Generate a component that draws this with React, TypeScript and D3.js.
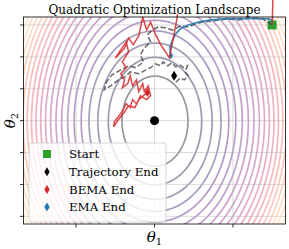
import * as d3 from "d3";

// quadratic f(x, y) = 0.5 * (h1 x^2 + h2 y^2)
const hessian = [11.3, 1.0];
const levels = d3.range(1, 22);
const xTicks = [-1, 0, 1];
const yTicks = [-3, -2, -1, 0, 1, 2, 3];

const start = [1.5, 3.0];
const optimum = [0, 0];
const trajEnd = [0.25, 1.41];
const bemaEnd = [-0.09, 0.88];
const emaEnd = [0.21, 2.04];

const trajectory = [
  [1.5, 3.0], [1.38, 3.19], [1.22, 3.22], [1.07, 3.16], [0.92, 3.19], [0.76, 3.13],
  [0.62, 3.09], [0.52, 3.03], [0.43, 2.94], [0.33, 2.97], [0.23, 2.84], [0.14, 2.91],
  [0.05, 2.94], [-0.03, 2.84], [-0.09, 2.69], [-0.05, 2.47], [-0.13, 2.28], [-0.18, 2.06],
  [-0.14, 1.84], [-0.24, 1.66], [-0.33, 1.72], [-0.43, 1.59], [-0.54, 1.44], [-0.61, 1.22],
  [-0.64, 0.97], [-0.56, 1.09], [-0.46, 1.28], [-0.37, 1.38], [-0.31, 1.53], [-0.2, 1.47],
  [-0.11, 1.59], [-0.05, 1.66], [0.01, 1.78], [0.08, 1.72], [0.11, 1.84], [0.17, 1.72],
  [0.22, 1.81], [0.27, 1.69], [0.32, 1.75], [0.37, 1.66], [0.42, 1.72], [0.39, 1.53],
  [0.43, 1.41], [0.38, 1.28], [0.33, 1.34], [0.28, 1.22], [0.24, 1.34], [0.25, 1.41],
];

const bema = [
  [1.5, 3.0], [1.53, 5.66], [0.36, 5.66], [0.29, 3.25], [0.24, 2.59], [0.19, 1.97],
  [0.08, 2.38], [0.01, 2.72], [-0.05, 3.09], [-0.1, 2.84], [-0.15, 3.25], [-0.2, 2.66],
  [-0.27, 2.38], [-0.33, 2.59], [-0.38, 2.28], [-0.46, 2.06], [-0.5, 1.97], [-0.43, 2.22],
  [-0.36, 2.47], [-0.33, 2.16], [-0.41, 1.84], [-0.36, 1.66], [-0.43, 1.47], [-0.38, 1.28],
  [-0.41, 1.03], [-0.34, 1.16], [-0.31, 1.41], [-0.28, 1.09], [-0.23, 1.28], [-0.2, 0.91],
  [-0.15, 1.16], [-0.13, 0.91], [-0.08, 1.09], [-0.05, 0.78], [-0.1, 0.66], [-0.18, 0.78],
  [-0.23, 0.53], [-0.28, 0.66], [-0.31, 0.41], [-0.36, 0.53], [-0.43, 0.22], [-0.51, -0.03],
  [-0.52, -0.19], [-0.46, 0.03], [-0.38, 0.28], [-0.33, 0.47], [-0.25, 0.41], [-0.2, 0.66],
  [-0.13, 0.81], [-0.09, 0.88],
];

const ema = [
  [1.5, 3.0], [1.5, 3.16], [1.45, 3.19], [1.29, 3.2], [1.1, 3.2], [0.9, 3.19], [0.71, 3.16],
  [0.56, 3.09], [0.43, 3.0], [0.33, 2.88], [0.27, 2.72], [0.23, 2.53], [0.2, 2.31],
  [0.2, 2.13], [0.21, 2.04],
];

const legendItems = [
  { label: "Start", color: "#2ca02c", shape: "square" },
  { label: "Trajectory End", color: "#000000", shape: "diamond" },
  { label: "BEMA End", color: "#d62728", shape: "diamond" },
  { label: "EMA End", color: "#1f77b4", shape: "diamond" },
];

const W = 289;
const H = 249;
const m = { left: 23.5, right: 285.5, top: 17, bottom: 224 };
const serif = "DejaVu Serif, serif";

const diamond = (cx, cy, h) =>
  `M${cx},${cy - h / 2}L${cx + h * 0.3},${cy}L${cx},${cy + h / 2}L${cx - h * 0.3},${cy}Z`;

export default function App() {
  const x = d3.scaleLinear().domain([-1.67, 1.67]).range([m.left, m.right]);
  const y = d3.scaleLinear().domain([-3.24, 3.25]).range([m.bottom, m.top]);

  // sample the loss on a pixel grid slightly larger than the axes
  const gx0 = m.left - 4;
  const gy0 = m.top - 4;
  const nx = Math.ceil(m.right - m.left) + 9;
  const ny = Math.ceil(m.bottom - m.top) + 9;
  const values = new Array(nx * ny);
  for (let j = 0; j < ny; j++) {
    for (let i = 0; i < nx; i++) {
      const dx = x.invert(gx0 + i);
      const dy = y.invert(gy0 + j);
      values[i + j * nx] = 0.5 * (hessian[0] * dx * dx + hessian[1] * dy * dy);
    }
  }
  const contours = d3.contours().size([nx, ny]).thresholds(levels)(values);
  const proj = d3.geoTransform({
    point(px, py) {
      this.stream.point(gx0 + px, gy0 + py);
    },
  });
  const geo = d3.geoPath(proj);
  const color = (v) => d3.interpolateMagma(v / 22);

  const line = d3.line().x((d) => x(d[0])).y((d) => y(d[1]));

  return (
    <svg width={W} height={H} style={{ position: "absolute", left: 0, top: 0 }}>
      <defs>
        <clipPath id="plot">
          <rect x={m.left} y={m.top} width={m.right - m.left} height={m.bottom - m.top} />
        </clipPath>
        <clipPath id="bemaClip">
          <rect x={m.left} y={14} width={m.right - m.left} height={m.bottom - 14} />
          <rect x={265} y={0} width={20} height={30} />
        </clipPath>
      </defs>
      <rect width={W} height={H} fill="#fff" />
      <g clipPath="url(#plot)">
        {contours.map((c) => (
          <path key={c.value} d={geo(c)} fill="none" stroke={color(c.value)} strokeWidth={1.7} strokeOpacity={0.42} />
        ))}
        {xTicks.map((t) => (
          <line key={"gx" + t} x1={x(t)} x2={x(t)} y1={m.top} y2={m.bottom} stroke="#b0b0b0" strokeWidth={0.8} strokeOpacity={0.6} />
        ))}
        {yTicks.map((t) => (
          <line key={"gy" + t} x1={m.left} x2={m.right} y1={y(t)} y2={y(t)} stroke="#b0b0b0" strokeWidth={0.8} strokeOpacity={0.6} />
        ))}
        <rect x={x(start[0]) - 4.5} y={y(start[1]) - 4.5} width={9} height={9} fill="#2ca02c" />
        <path d={line(trajectory)} fill="none" stroke="#3a3a3a" strokeOpacity={0.75} strokeWidth={1.5} strokeDasharray="5.5,2.4" />
        <path d={line(ema)} fill="none" stroke="#1f77b4" strokeOpacity={0.85} strokeWidth={1.8} />
        <circle cx={x(optimum[0])} cy={y(optimum[1])} r={4.5} fill="#000" />
        <path d={diamond(x(trajEnd[0]), y(trajEnd[1]), 10)} fill="#000" />
        <path d={diamond(x(emaEnd[0]), y(emaEnd[1]), 7)} fill="#1f77b4" />
      </g>
      <path d={line(bema)} fill="none" stroke="#d62728" strokeOpacity={0.85} strokeWidth={1.5} clipPath="url(#bemaClip)" />
      <path d={diamond(x(bemaEnd[0]), y(bemaEnd[1]), 9)} fill="#d62728" />
      <rect x={m.left} y={m.top} width={m.right - m.left} height={m.bottom - m.top} fill="none" stroke="#000" strokeWidth={0.8} />
      {xTicks.map((t) => (
        <line key={"tx" + t} x1={x(t)} x2={x(t)} y1={m.bottom} y2={m.bottom + 3.5} stroke="#000" strokeWidth={0.8} />
      ))}
      {yTicks.map((t) => (
        <line key={"ty" + t} x1={m.left - 3.5} x2={m.left} y1={y(t)} y2={y(t)} stroke="#000" strokeWidth={0.8} />
      ))}
      <text x={(m.left + m.right) / 2} y={13.5} textAnchor="middle" fontFamily={serif} fontSize={12}>
        Quadratic Optimization Landscape
      </text>
      <text x={(m.left + m.right) / 2} y={242} textAnchor="middle" fontFamily={serif} fontSize={15}>
        <tspan fontStyle="italic">θ</tspan>
        <tspan fontSize={10} dy={3}>1</tspan>
      </text>
      <text transform={`translate(15,${(m.top + m.bottom) / 2}) rotate(-90)`} textAnchor="middle" fontFamily={serif} fontSize={15}>
        <tspan fontStyle="italic">θ</tspan>
        <tspan fontSize={10} dy={3}>2</tspan>
      </text>
      <g>
        <rect x={29} y={143} width={137} height={79} rx={3} fill="#fff" fillOpacity={0.8} stroke="#cccccc" strokeWidth={0.8} />
        {legendItems.map((it, i) => {
          const cy = 154 + i * 17.7;
          return (
            <g key={it.label}>
              {it.shape === "square" ? (
                <rect x={43} y={cy - 4} width={8} height={8} fill={it.color} />
              ) : (
                <path d={diamond(47, cy, 9)} fill={it.color} />
              )}
              <text x={69} y={cy + 4.2} fontFamily={serif} fontSize={11.8}>
                {it.label}
              </text>
            </g>
          );
        })}
      </g>
    </svg>
  );
}
